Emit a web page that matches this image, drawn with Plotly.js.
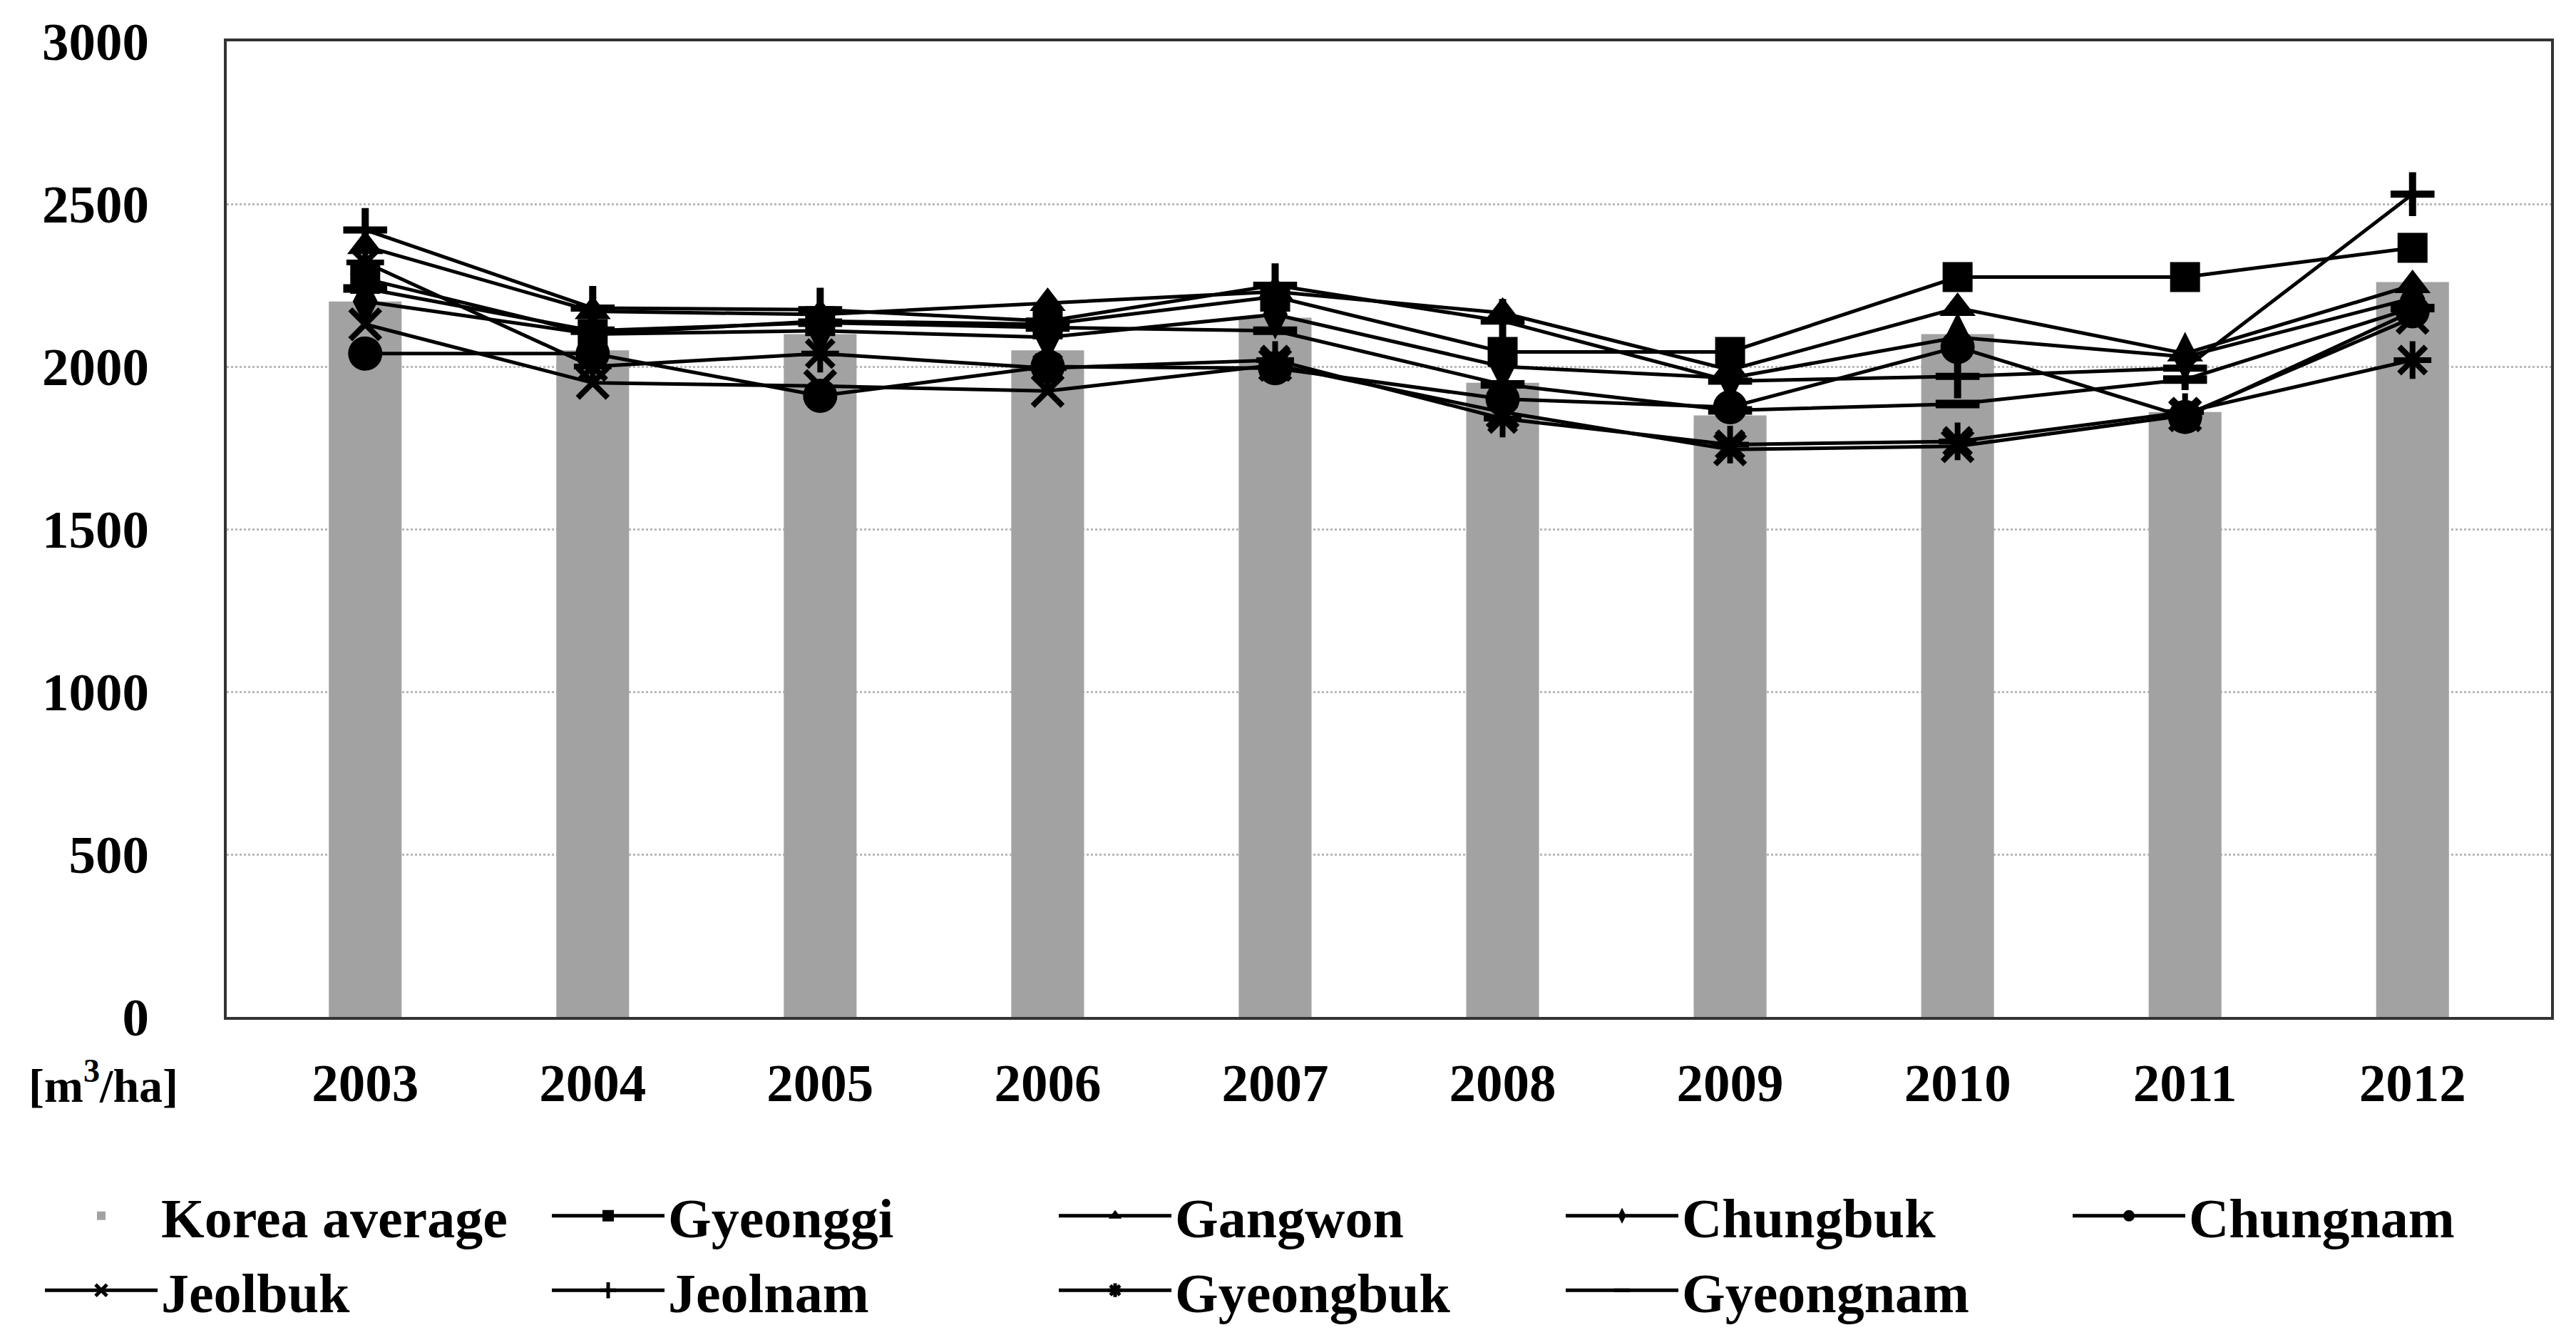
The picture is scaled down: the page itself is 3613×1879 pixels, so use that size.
<!DOCTYPE html>
<html>
<head>
<meta charset="utf-8">
<script src="https://cdn.plot.ly/plotly-3.0.1.min.js"></script>
<style>html,body{margin:0;padding:0;background:#fff;}#chart{width:3613px;height:1879px;}</style>
</head>
<body>
<div id="chart"></div>
<script>
// ---- data (m3/ha) ----
const years = ['2003','2004','2005','2006','2007','2008','2009','2010','2011','2012'];
const koreaAverage = [2200, 2050, 2100, 2050, 2150, 1950, 1850, 2100, 1860, 2260];
const gyeonggi  = [2270, 2100, 2140, 2130, 2215, 2045, 2045, 2275, 2275, 2365];
const gangwon   = [2370, 2170, 2160, 2195, 2230, 2165, 1990, 2180, 2040, 2250];
const chungbuk  = [2200, 2100, 2110, 2090, 2160, 2000, 1965, 2090, 2030, 2210];
const chungnam  = [2040, 2040, 1910, 2000, 1995, 1900, 1875, 2060, 1845, 2170];
const jeolbuk   = [2130, 1950, 1940, 1925, 2005, 1860, 1745, 1755, 1850, 2150];
const jeolnam   = [2420, 2180, 2175, 2140, 2250, 2140, 1955, 1970, 1995, 2530];
const gyeongbuk = [2320, 2000, 2040, 1995, 2020, 1840, 1760, 1770, 1860, 2020];
const gyeongnam = [2240, 2110, 2135, 2120, 2110, 1945, 1865, 1885, 1960, 2180];
const yTicks = [0, 500, 1000, 1500, 2000, 2500, 3000];

const FONT = 'Liberation Serif, Times New Roman, serif';

function lineTrace(name, values, symbol, size, lw) {
  return {
    type: 'scatter', mode: 'lines+markers', name: name, x: years, y: values,
    line: {color: '#000', width: 5},
    marker: {symbol: symbol, size: size, color: '#000', line: {color: '#000', width: lw}},
    cliponaxis: false
  };
}

const traces = [
  {type: 'bar', name: 'Korea average', x: years, y: koreaAverage,
   marker: {color: '#a2a2a2', line: {width: 0}}, width: 0.32},
  lineTrace('Gyeonggi', gyeonggi, 'square', 42, 0),
  lineTrace('Gangwon', gangwon, 'triangle-up', 44, 0),
  lineTrace('Chungbuk', chungbuk, 'diamond-tall', 50, 0),
  lineTrace('Chungnam', chungnam, 'circle', 48, 0),
  lineTrace('Jeolbuk', jeolbuk, 'x-thin', 42, 8),
  lineTrace('Jeolnam', jeolnam, 'cross-thin', 44, 10),
  lineTrace('Gyeongbuk', gyeongbuk, 'asterisk', 44, 8),
  lineTrace('Gyeongnam', gyeongnam, 'line-ew', 44, 12)
];

const layout = {
  width: 3613, height: 1879,
  margin: {l: 318, r: 35, t: 58, b: 446},
  paper_bgcolor: '#fff', plot_bgcolor: '#fff',
  font: {family: FONT, size: 75, color: '#000', weight: 'bold'},
  showlegend: true,
  xaxis: {
    type: 'category', showgrid: false, zeroline: false,
    showline: true, mirror: true, linecolor: '#333', linewidth: 4,
    ticks: '', ticklabelstandoff: 24,
    tickfont: {family: FONT, size: 75, color: '#000', weight: 'bold'}
  },
  yaxis: {
    range: [0, 3000], tickvals: yTicks, ticktext: yTicks.map(String),
    showgrid: true, gridcolor: '#b8b8b8', gridwidth: 3, griddash: 'dot',
    zeroline: false, showline: true, mirror: true, linecolor: '#333', linewidth: 4,
    ticks: '', ticklabelstandoff: 90,
    tickfont: {family: FONT, size: 75, color: '#000', weight: 'bold'}
  },
  legend: {
    orientation: 'h', xref: 'paper', yref: 'paper',
    x: -0.040, y: -0.162, xanchor: 'left', yanchor: 'top',
    entrywidth: 538, entrywidthmode: 'pixels', itemwidth: 158,
    font: {family: FONT, size: 78, color: '#000', weight: 'bold'},
    traceorder: 'normal', bgcolor: 'rgba(0,0,0,0)'
  },
  annotations: [{
    xref: 'paper', yref: 'paper', x: -0.053, y: -0.067,
    xanchor: 'center', yanchor: 'middle', showarrow: false,
    text: '[m<sup>3</sup>/ha]',
    font: {family: FONT, size: 66, color: '#000', weight: 'bold'}
  }]
};

Plotly.newPlot('chart', traces, layout, {staticPlot: true, displayModeBar: false});
</script>
</body>
</html>
